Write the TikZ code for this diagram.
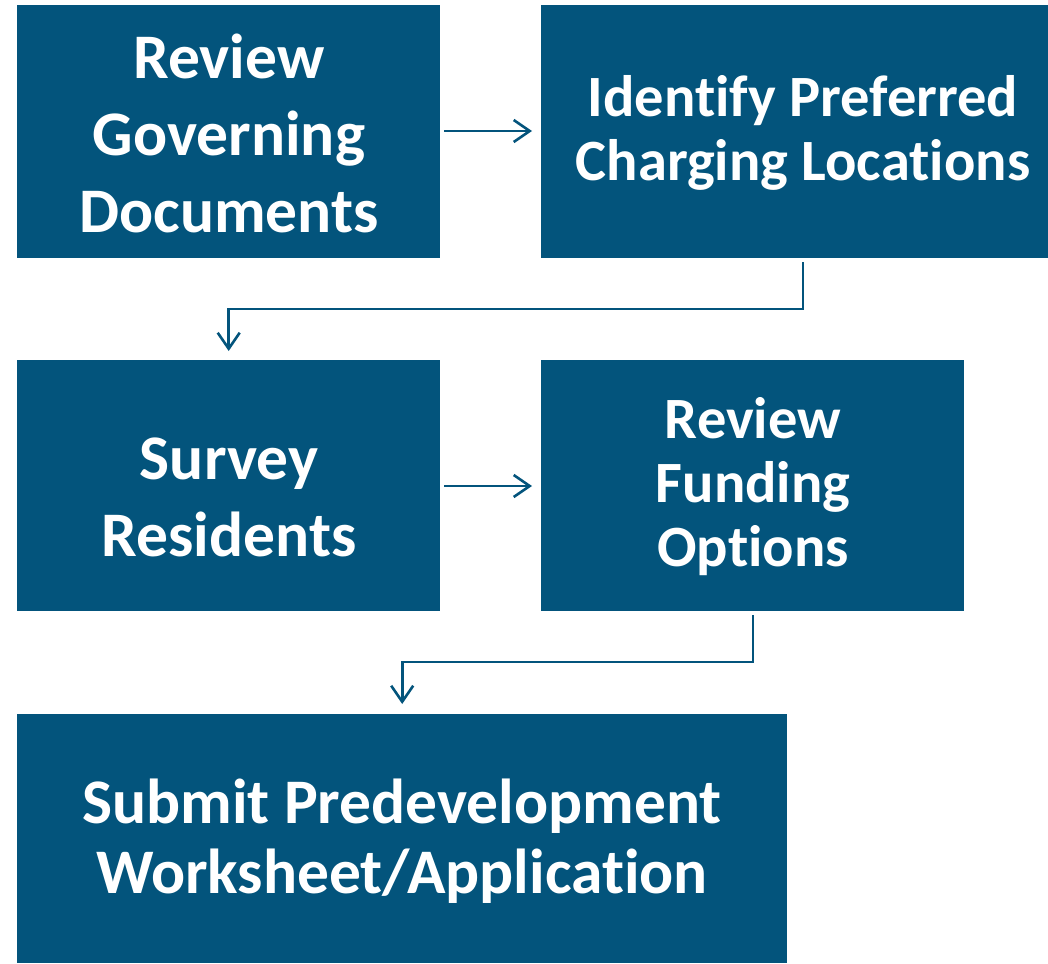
\documentclass[tikz,border=0pt]{standalone}
\usepackage{fontspec}
\setmainfont{Carlito}[RawFeature={-liga}]
\usetikzlibrary{arrows.meta,calc}
\definecolor{boxblue}{HTML}{03547C}
\tikzset{
  stepbox/.style={fill=boxblue, draw=none, inner sep=0pt, anchor=north west},
  steptext/.style={text=white, align=center, inner sep=0pt, font=\bfseries},
  arr/.style={draw=boxblue, line width=2.6pt, -{Straight Barb[length=16pt,width=22pt,line width=2.6pt]}}
}
\begin{document}
\begin{tikzpicture}[x=1pt,y=-1pt]
\useasboundingbox (0,0) rectangle (1048,963);
\node[stepbox, minimum width=423pt, minimum height=253pt] (b1) at (17,5) {};
\node[stepbox, minimum width=507pt, minimum height=253pt] (b2) at (541,5) {};
\node[stepbox, minimum width=423pt, minimum height=251pt] (b3) at (17,360) {};
\node[stepbox, minimum width=423pt, minimum height=251pt] (b4) at (541,360) {};
\node[stepbox, minimum width=770pt, minimum height=249pt] (b5) at (17,714) {};

\node[steptext, font=\fontsize{63.5}{77}\selectfont\bfseries] (t1) at (229,133) {Review\\Governing\\Documents};
\node[steptext, font=\fontsize{58.5}{64}\selectfont\bfseries] (t2) at (803,133) {Identify Preferred\\Charging Locations};
\node[steptext, font=\fontsize{63.5}{77}\selectfont\bfseries] (t3) at (229,497) {Survey\\Residents};
\node[steptext, font=\fontsize{58.5}{64}\selectfont\bfseries] (t4) at (753,487) {Review\\Funding\\Options};
\node[steptext, font=\fontsize{63.5}{70}\selectfont\bfseries] (t5) at (402,841) {Submit Predevelopment\\Worksheet/Application};

\coordinate (c1) at (0,309);
\coordinate (c2) at (0,662);
\draw[arr] ([xshift=4pt]b1.east |- 0,131) -- ([xshift=-9pt]b2.west |- 0,131);
\draw[arr] ([yshift=-4pt]803,0 |- b2.south) -- (803,0 |- c1) -| ([yshift=9pt]b3.north);
\draw[arr] ([xshift=4pt]b3.east |- 0,486) -- ([xshift=-9pt]b4.west |- 0,486);
\draw[arr] ([yshift=-4pt]753,0 |- b4.south) -- (753,0 |- c2) -| ([yshift=10pt]b5.north);
\end{tikzpicture}
\end{document}
